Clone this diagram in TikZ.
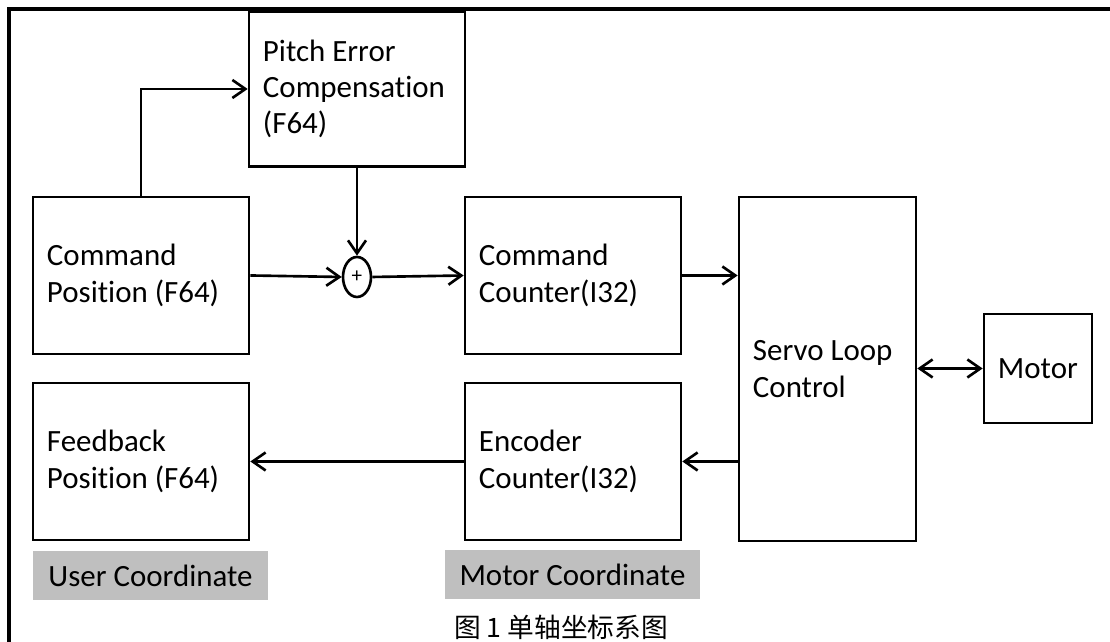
\documentclass[tikz,border=0pt]{standalone}
\usepackage{fontspec}
\setmainfont{Carlito}[Ligatures=NoCommon]
\newfontfamily\cjk{Noto Sans CJK SC}
\usepackage{tikz}
\usetikzlibrary{shapes.geometric,arrows.meta,positioning,calc}

\begin{document}
\begin{tikzpicture}[line width=0.75pt, >={Straight Barb[length=1.3mm,width=1.8mm]},
    every node/.style={font=\fontsize{8.8}{10.3}\selectfont},
    block/.style={draw, rectangle, align=flush left, inner xsep=0.14cm, text width=1.88cm, minimum height=1.57cm},
    tag/.style={fill=black!25, rectangle, inner sep=0pt, minimum height=0.49cm}]
      \useasboundingbox (0,0) rectangle (11.1,6.42);

      % Frame
      \draw[line width=1.1pt] (0.09,0) -- (0.09,6.33) -- (11.1,6.33);

      % Command side
      \node[block, minimum height=1.55cm] (pitch) at (3.57, 5.53) {Pitch Error\\Compensation\\(F64)};
      \node[block] (cmdpos) at (1.41, 3.665) {Command\\Position (F64)};
      \node[draw, ellipse, minimum width=0.28cm, minimum height=0.4cm, inner sep=0pt, font=\fontsize{6}{6}\selectfont] (sum) at (3.57, 3.65) {+};
      \node[block] (cmdcnt) at (5.73, 3.665) {Command\\Counter(I32)};

      % Servo and motor
      \node[block, text width=1.49cm, minimum height=3.44cm] (servo) at (8.275, 2.73) {Servo Loop\\Control};
      \node[block, text width=0.8cm, minimum height=1.09cm] (motor) at (10.38, 2.735) {Motor};

      % Feedback side
      \node[block] (fbpos) at (1.41, 1.805) {Feedback\\Position (F64)};
      \node[block] (enccnt) at (5.73, 1.805) {Encoder\\Counter(I32)};

      % Coordinate tags
      \node[tag, minimum width=2.35cm] (usercoord) at (1.505, 0.665) {User Coordinate};
      \node[tag, minimum width=2.55cm] (motorcoord) at (5.725, 0.67) {Motor Coordinate};

      % Caption
      \node[font=\cjk\fontsize{7.6}{9}\selectfont] (caption) at (5.61, 0.15) {图 1 单轴坐标系图};

      % Arrows
      \draw[->] (cmdpos.north) |- (pitch.west);
      \draw[->] (pitch.south) -- (sum.north);
      \draw[->] (cmdpos.east) -- (sum.west);
      \draw[->] (sum.east) -- (cmdcnt.west);
      \draw[->] (cmdcnt.east) -- (cmdcnt.east -| servo.west);
      \draw[<->] (servo.east |- motor.west) -- (motor.west);
      \draw[->] (servo.west |- enccnt.east) -- (enccnt.east);
      \draw[->] (enccnt.west) -- (fbpos.east);
    \end{tikzpicture}
\end{document}
